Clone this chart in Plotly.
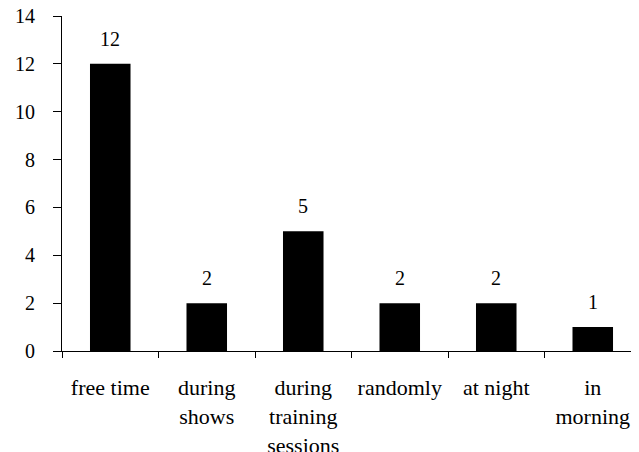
import plotly.graph_objects as go

categories = ["free time", "during<br>shows", "during<br>training<br>sessions", "randomly", "at night", "in<br>morning"]
values = [12, 2, 5, 2, 2, 1]
y_ticks = [0, 2, 4, 6, 8, 10, 12, 14]

font = "Liberation Serif, Times New Roman, serif"

fig = go.Figure()
fig.add_trace(go.Bar(
    x=categories, y=values,
    marker=dict(color="black", line=dict(width=0)),
    width=0.42,
    cliponaxis=False,
))
for c, v in zip(categories, values):
    fig.add_annotation(x=c, y=v, text=str(v), showarrow=False, yanchor="bottom",
                       yshift=12, font=dict(family=font, size=20, color="black"))

fig.update_layout(
    width=639, height=452,
    margin=dict(l=54, r=6, t=8, b=109, autoexpand=False),
    plot_bgcolor="white", paper_bgcolor="white",
    showlegend=False,
    font=dict(family=font, size=20, color="black"),
)
fig.update_yaxes(
    range=[0, 14], tickvals=y_ticks, showgrid=False, zeroline=False,
    showline=True, linecolor="black", linewidth=1, automargin=False,
    ticks="outside", ticklen=8, tickcolor="black", ticklabelstandoff=14,
    ticklabeloverflow="allow",
    tickfont=dict(family=font, size=20, color="black"),
)
fig.update_xaxes(
    showgrid=False, showline=True, linecolor="black", linewidth=1, automargin=False,
    ticks="outside", ticklen=6, tickcolor="black", tickson="boundaries",
    ticklabelstandoff=17, ticklabeloverflow="allow",
    tickfont=dict(family=font, size=22, color="black"),
)
fig.write_html("out.html")
